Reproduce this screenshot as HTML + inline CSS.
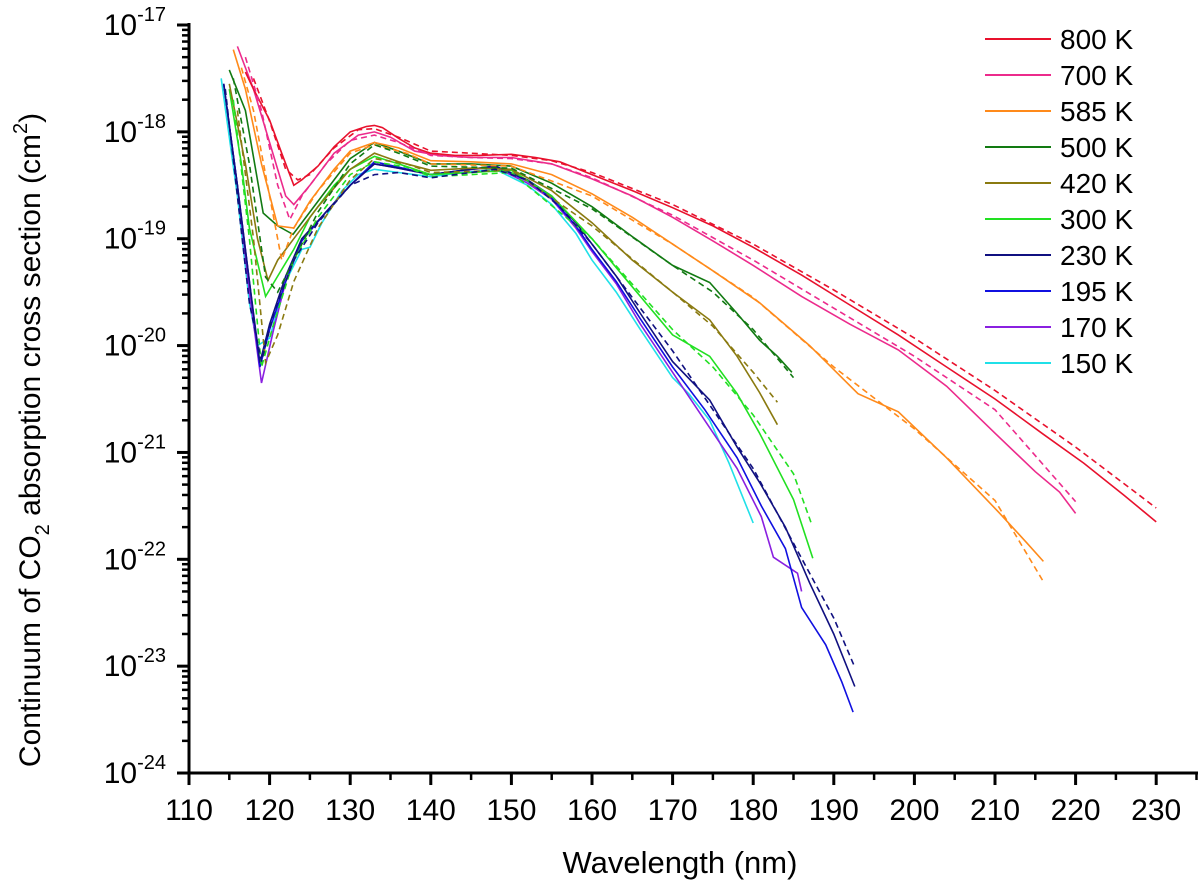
<!DOCTYPE html>
<html><head><meta charset="utf-8"><style>
body{margin:0;background:#fff}
svg{display:block;font-family:"Liberation Sans",Arial,sans-serif}
</style></head><body>
<svg id="chart" width="1200" height="895" viewBox="0 0 1200 895">
<g id="axes"></g>
<g id="series"></g>
<g id="legend"></g>
<text x="680" y="873" font-size="31" text-anchor="middle">Wavelength (nm)</text>
<text transform="translate(40,440) rotate(-90)" font-size="30" text-anchor="middle">Continuum of CO<tspan font-size="20" dy="9">2</tspan><tspan dy="-9"> absorption cross section (cm</tspan><tspan font-size="20" dy="-13">2</tspan><tspan dy="13">)</tspan></text>
</svg>
<script>
const xTicks=[110,120,130,140,150,160,170,180,190,200,210,220,230];
const yTicks=[-17,-18,-19,-20,-21,-22,-23,-24];
const temps=["800 K","700 K","585 K","500 K","420 K","300 K","230 K","195 K","170 K","150 K"];
const colors=["#e8112d","#ec2b8c","#ff8a1a","#127a12","#8a7a10","#22e022","#101080","#1010e0","#8a20e0","#20e0e8"];

const wl800=[117,118,120,121.5,123,124,126,128,130,132,133,134,136,138,140,143,146,150,153,156,160,165,170,175,180,186,192,198,204,210,216,221,226,230];
const v800=[-17.44,-17.6,-17.89,-18.2,-18.5,-18.45,-18.32,-18.14,-18.0,-17.95,-17.94,-17.96,-18.06,-18.15,-18.2,-18.22,-18.22,-18.21,-18.24,-18.28,-18.4,-18.55,-18.71,-18.88,-19.08,-19.34,-19.62,-19.9,-20.2,-20.5,-20.83,-21.1,-21.4,-21.65];
const wl800f=[118,120,122,123.5,125,128,131,133,136,140,145,150,155,160,170,180,190,200,210,220,230];
const v800f=[-17.5,-17.9,-18.35,-18.45,-18.4,-18.15,-17.98,-17.97,-18.05,-18.18,-18.2,-18.22,-18.27,-18.38,-18.68,-19.05,-19.48,-19.93,-20.42,-20.95,-21.52];

const wl700=[116,118,120,122,123,125,128,131,133,135,138,141,145,150,155,160,165,170,175,180,186,192,198,204,210,215,218,220];
const v700=[-17.2,-17.6,-18.1,-18.6,-18.68,-18.5,-18.2,-18.03,-18.0,-18.05,-18.18,-18.22,-18.24,-18.24,-18.3,-18.44,-18.6,-18.8,-19.02,-19.25,-19.54,-19.8,-20.04,-20.38,-20.82,-21.18,-21.37,-21.57];
const wl700f=[117,119,121,122.5,124,127,130,133,136,140,145,150,155,160,170,180,190,200,210,220];
const v700f=[-17.3,-17.8,-18.5,-18.82,-18.6,-18.3,-18.08,-18.03,-18.1,-18.22,-18.24,-18.25,-18.3,-18.43,-18.78,-19.2,-19.65,-20.1,-20.6,-21.46];

const wl585=[115.5,117,119,121,123,125,128,130,133,136,140,145,150,155,160,165,170,175,180.8,187,193,198,204,210.6,214,216];
const v585=[-17.23,-17.6,-18.3,-18.88,-18.9,-18.65,-18.35,-18.18,-18.1,-18.15,-18.27,-18.28,-18.3,-18.4,-18.58,-18.8,-19.05,-19.3,-19.6,-20.0,-20.45,-20.62,-21.05,-21.57,-21.85,-22.02];
const wl585f=[116.5,118,120,121.5,123,126,130,133,137,140,150,160,170,180,190,200,210,216];
const v585f=[-17.4,-17.8,-18.6,-19.2,-18.9,-18.55,-18.2,-18.12,-18.2,-18.3,-18.32,-18.6,-19.05,-19.55,-20.2,-20.78,-21.45,-22.21];

const wl500=[115,117,119.2,121,122.9,125,128,130,133,136,140,145,150,155,160,165,170,174.6,178,180.8,183,184.8];
const v500=[-17.42,-17.8,-18.76,-18.88,-18.96,-18.75,-18.45,-18.25,-18.1,-18.18,-18.3,-18.3,-18.32,-18.48,-18.7,-18.98,-19.25,-19.41,-19.7,-19.95,-20.1,-20.25];
const wl500f=[115.5,117.5,119.5,121,123,126,130,133,136,140,150,160,170,175,180,185];
const v500f=[-17.5,-18.3,-19.36,-19.5,-19.2,-18.75,-18.3,-18.12,-18.2,-18.32,-18.34,-18.72,-19.25,-19.5,-19.85,-20.3];

const wl420=[115,117,118.5,119.8,121,123,126,130,133,136,140,145,150,155,160,165,170,174.6,178,180.8,183];
const v420=[-17.55,-18.3,-19.0,-19.39,-19.2,-19.0,-18.7,-18.35,-18.2,-18.28,-18.36,-18.34,-18.35,-18.55,-18.85,-19.2,-19.5,-19.76,-20.1,-20.44,-20.74];
const wl420f=[116,118,119.5,121,123,126,130,133,137,140,150,160,170,175,180,183];
const v420f=[-17.8,-19.0,-20.16,-19.9,-19.4,-18.9,-18.45,-18.25,-18.3,-18.38,-18.36,-18.88,-19.5,-19.82,-20.25,-20.53];

const wl300=[115,116.5,117.5,119.5,121,123,125,128,130,133,136,140,145,150,155,160,165,170,174.6,178,180.8,185,187.4];
const v300=[-17.6,-18.3,-18.9,-19.54,-19.35,-19.1,-18.8,-18.5,-18.35,-18.23,-18.3,-18.4,-18.38,-18.36,-18.6,-19.0,-19.45,-19.9,-20.1,-20.45,-20.82,-21.44,-21.99];
const wl300f=[115.5,117.5,119,120.5,123,126,130,133,137,140,150,160,170,175,180,185,187.2];
const v300f=[-17.7,-19.0,-20.2,-19.8,-19.2,-18.8,-18.4,-18.28,-18.33,-18.42,-18.38,-19.0,-19.85,-20.2,-20.65,-21.2,-21.66];

const wl230=[114.3,116,117.5,118.8,120,122,124,127,130,133,136,140,144,148,152,155,158,160,163,166,170,174.6,178,180.8,184,187,190,192.6];
const v230=[-17.55,-18.5,-19.4,-20.16,-19.8,-19.35,-19.0,-18.75,-18.5,-18.3,-18.34,-18.4,-18.36,-18.32,-18.45,-18.6,-18.85,-19.05,-19.35,-19.7,-20.15,-20.51,-20.95,-21.28,-21.7,-22.22,-22.7,-23.19];
const wl230f=[114.5,116,117.5,119,120.5,123,126,130,133,136,140,145,148,152,156,160,165,170,175,180,185,190,192.6];
const v230f=[-17.6,-18.6,-19.6,-20.15,-19.7,-19.2,-18.85,-18.5,-18.4,-18.38,-18.43,-18.38,-18.35,-18.45,-18.7,-19.05,-19.55,-20.05,-20.6,-21.15,-21.85,-22.55,-23.01];

const wl195=[114.3,116,117.5,118.8,120,122,124,127,130,133,136,140,144,148,152,155,158,160,163,166,170,174,178,181,184,186,189,191,192.4];
const v195=[-17.55,-18.5,-19.4,-20.2,-19.85,-19.4,-19.02,-18.75,-18.5,-18.28,-18.33,-18.4,-18.36,-18.32,-18.46,-18.62,-18.88,-19.1,-19.4,-19.75,-20.2,-20.6,-21.05,-21.5,-21.9,-22.45,-22.8,-23.15,-23.43];

const wl170=[114.3,116,117.5,119,120.5,122,124,127,130,133,136,140,144,148,152,155,158,160,163,166,170,174,178,181,182.5,185.5,186];
const v170=[-17.55,-18.5,-19.5,-20.35,-19.85,-19.4,-19.02,-18.75,-18.5,-18.3,-18.34,-18.4,-18.36,-18.33,-18.48,-18.63,-18.9,-19.12,-19.42,-19.8,-20.25,-20.7,-21.15,-21.6,-21.98,-22.13,-22.3];

const wl150=[114,116,117.5,118.5,120,122,124,125,126.5,129,131,133,136,140,144,148,152,155,158,160,163,166,170,172,174.6,177,180];
const v150=[-17.5,-18.6,-19.6,-20.0,-19.93,-19.4,-19.1,-19.08,-18.85,-18.55,-18.4,-18.35,-18.38,-18.42,-18.38,-18.35,-18.5,-18.68,-18.95,-19.2,-19.5,-19.85,-20.3,-20.45,-20.7,-21.1,-21.66];

const NS="http://www.w3.org/2000/svg";
const X0=189,XPER=8.06,Y0=25,YPER=106.86;
function xs(w){return X0+(w-110)*XPER;}
function ys(l){return Y0+(-17-l)*YPER;}
function mk(tag,parent){const e=document.createElementNS(NS,tag);parent.appendChild(e);return e;}
const axes=document.getElementById('axes');

let a=mk('path',axes);
a.setAttribute('d',`M${X0} ${ys(-17)-2} V${ys(-24)} H1198`);
a.setAttribute('fill','none');a.setAttribute('stroke','#000');a.setAttribute('stroke-width','3');



xTicks.forEach(t=>{
  const l=mk('line',axes);
  l.setAttribute('x1',xs(t));l.setAttribute('x2',xs(t));l.setAttribute('y1',ys(-24));l.setAttribute('y2',ys(-24)+12);
  l.setAttribute('stroke','#000');l.setAttribute('stroke-width','3');
  
  
  const m=mk('line',axes);
  m.setAttribute('x1',xs(t+5));m.setAttribute('x2',xs(t+5));m.setAttribute('y1',ys(-24));m.setAttribute('y2',ys(-24)+7);
  m.setAttribute('stroke','#000');m.setAttribute('stroke-width','2.5');
  
  
  const tx=mk('text',axes);
  tx.setAttribute('x',xs(t));tx.setAttribute('y',ys(-24)+47);tx.setAttribute('font-size','30');tx.setAttribute('text-anchor','middle');
  tx.textContent=t;
  
  
});
yTicks.forEach(t=>{
  const l=mk('line',axes);
  l.setAttribute('x1',X0-12);l.setAttribute('x2',X0);l.setAttribute('y1',ys(t));l.setAttribute('y2',ys(t));
  l.setAttribute('stroke','#000');l.setAttribute('stroke-width','3');
  
  
  if(t>-24){for(let k=2;k<=9;k++){
    const m=mk('line',axes);const yy=ys(t-1+Math.log10(k));
    m.setAttribute('x1',X0-7);m.setAttribute('x2',X0);m.setAttribute('y1',yy);m.setAttribute('y2',yy);
    m.setAttribute('stroke','#000');m.setAttribute('stroke-width','2.5');
    
    
  }}
  const tx=mk('text',axes);
  tx.setAttribute('x',166);tx.setAttribute('y',ys(t)+10);tx.setAttribute('font-size','30');tx.setAttribute('text-anchor','end');
  tx.innerHTML='10<tspan font-size="20" dy="-14">'+t+'</tspan>';
  
  
});

const ser=document.getElementById('series');
function draw(w,v,color,dashed,name){
  const p=mk('path',ser);
  p.setAttribute('d',w.map((x,i)=>(i?'L':'M')+xs(x).toFixed(1)+' '+ys(v[i]).toFixed(1)).join(''));
  p.setAttribute('fill','none');p.setAttribute('stroke',color);p.setAttribute('stroke-width','1.6');
  if(dashed)p.setAttribute('stroke-dasharray','6 4');
  
  
}
const solids=[[wl800,v800],[wl700,v700],[wl585,v585],[wl500,v500],[wl420,v420],[wl300,v300],[wl230,v230],[wl195,v195],[wl170,v170],[wl150,v150]];
const fits=[[wl800f,v800f,0],[wl700f,v700f,1],[wl585f,v585f,2],[wl500f,v500f,3],[wl420f,v420f,4],[wl300f,v300f,5],[wl230f,v230f,6]];
for(let i=solids.length-1;i>=0;i--)draw(solids[i][0],solids[i][1],colors[i],false,'series-'+temps[i].replace(' K','k'));
fits.forEach(f=>draw(f[0],f[1],colors[f[2]],true,'fit-'+temps[f[2]].replace(' K','k')));

const lg=document.getElementById('legend');
temps.forEach((t,i)=>{
  const y=39+i*36;
  const l=mk('line',lg);
  l.setAttribute('x1',985);l.setAttribute('x2',1051);l.setAttribute('y1',y);l.setAttribute('y2',y);
  l.setAttribute('stroke',colors[i]);l.setAttribute('stroke-width','2');
  
  
  const tx=mk('text',lg);
  tx.setAttribute('x',1060);tx.setAttribute('y',y+10);tx.setAttribute('font-size','28');
  tx.textContent=t;
  
  
});
</script>
</body></html>
